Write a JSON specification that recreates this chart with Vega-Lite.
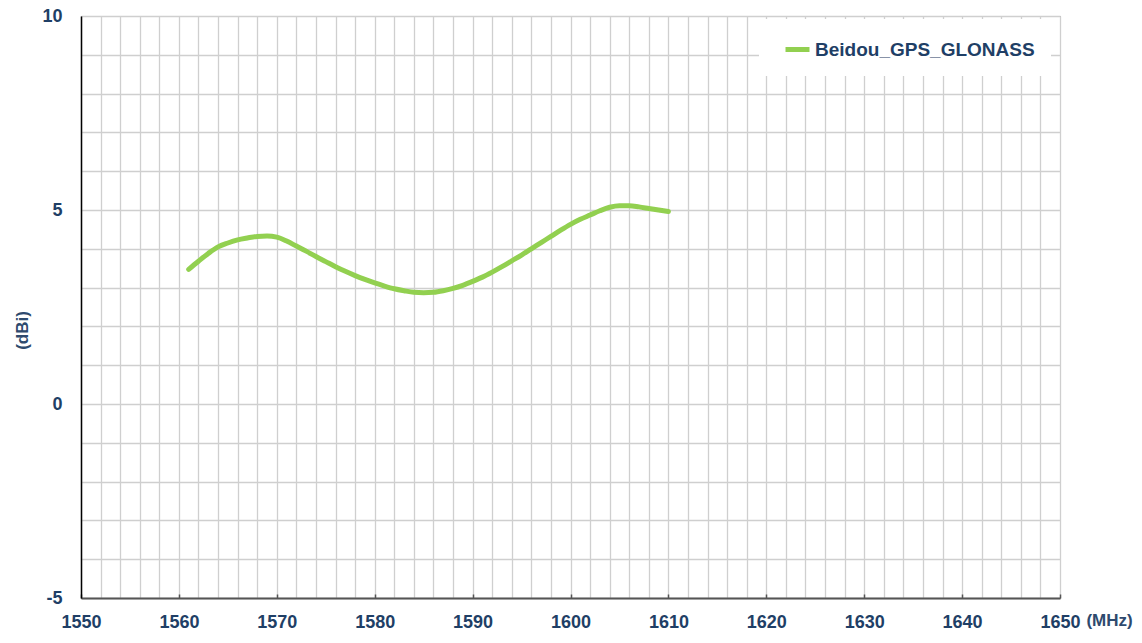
{
  "$schema": "https://vega.github.io/schema/vega-lite/v6.json",
  "width": 979,
  "height": 582,
  "autosize": {"type": "none"},
  "padding": {"left": 81, "top": 16, "right": 82, "bottom": 45},
  "background": "white",
  "config": {
    "view": {"stroke": "#8c8c8c", "strokeWidth": 1},
    "font": "Liberation Sans"
  },
  "data": {
    "values": [
      {"freq": 1561, "gain": 3.47, "series": "Beidou_GPS_GLONASS"},
      {"freq": 1562, "gain": 3.68, "series": "Beidou_GPS_GLONASS"},
      {"freq": 1563, "gain": 3.88, "series": "Beidou_GPS_GLONASS"},
      {"freq": 1564, "gain": 4.05, "series": "Beidou_GPS_GLONASS"},
      {"freq": 1565, "gain": 4.15, "series": "Beidou_GPS_GLONASS"},
      {"freq": 1566, "gain": 4.23, "series": "Beidou_GPS_GLONASS"},
      {"freq": 1567, "gain": 4.28, "series": "Beidou_GPS_GLONASS"},
      {"freq": 1568, "gain": 4.32, "series": "Beidou_GPS_GLONASS"},
      {"freq": 1569, "gain": 4.33, "series": "Beidou_GPS_GLONASS"},
      {"freq": 1570, "gain": 4.3, "series": "Beidou_GPS_GLONASS"},
      {"freq": 1571, "gain": 4.2, "series": "Beidou_GPS_GLONASS"},
      {"freq": 1572, "gain": 4.07, "series": "Beidou_GPS_GLONASS"},
      {"freq": 1573, "gain": 3.94, "series": "Beidou_GPS_GLONASS"},
      {"freq": 1574, "gain": 3.8, "series": "Beidou_GPS_GLONASS"},
      {"freq": 1575, "gain": 3.67, "series": "Beidou_GPS_GLONASS"},
      {"freq": 1576, "gain": 3.54, "series": "Beidou_GPS_GLONASS"},
      {"freq": 1577, "gain": 3.42, "series": "Beidou_GPS_GLONASS"},
      {"freq": 1578, "gain": 3.31, "series": "Beidou_GPS_GLONASS"},
      {"freq": 1579, "gain": 3.21, "series": "Beidou_GPS_GLONASS"},
      {"freq": 1580, "gain": 3.12, "series": "Beidou_GPS_GLONASS"},
      {"freq": 1581, "gain": 3.04, "series": "Beidou_GPS_GLONASS"},
      {"freq": 1582, "gain": 2.97, "series": "Beidou_GPS_GLONASS"},
      {"freq": 1583, "gain": 2.92, "series": "Beidou_GPS_GLONASS"},
      {"freq": 1584, "gain": 2.88, "series": "Beidou_GPS_GLONASS"},
      {"freq": 1585, "gain": 2.87, "series": "Beidou_GPS_GLONASS"},
      {"freq": 1586, "gain": 2.88, "series": "Beidou_GPS_GLONASS"},
      {"freq": 1587, "gain": 2.92, "series": "Beidou_GPS_GLONASS"},
      {"freq": 1588, "gain": 2.98, "series": "Beidou_GPS_GLONASS"},
      {"freq": 1589, "gain": 3.06, "series": "Beidou_GPS_GLONASS"},
      {"freq": 1590, "gain": 3.16, "series": "Beidou_GPS_GLONASS"},
      {"freq": 1591, "gain": 3.27, "series": "Beidou_GPS_GLONASS"},
      {"freq": 1592, "gain": 3.4, "series": "Beidou_GPS_GLONASS"},
      {"freq": 1593, "gain": 3.54, "series": "Beidou_GPS_GLONASS"},
      {"freq": 1594, "gain": 3.69, "series": "Beidou_GPS_GLONASS"},
      {"freq": 1595, "gain": 3.84, "series": "Beidou_GPS_GLONASS"},
      {"freq": 1596, "gain": 4.0, "series": "Beidou_GPS_GLONASS"},
      {"freq": 1597, "gain": 4.16, "series": "Beidou_GPS_GLONASS"},
      {"freq": 1598, "gain": 4.32, "series": "Beidou_GPS_GLONASS"},
      {"freq": 1599, "gain": 4.48, "series": "Beidou_GPS_GLONASS"},
      {"freq": 1600, "gain": 4.63, "series": "Beidou_GPS_GLONASS"},
      {"freq": 1601, "gain": 4.76, "series": "Beidou_GPS_GLONASS"},
      {"freq": 1602, "gain": 4.87, "series": "Beidou_GPS_GLONASS"},
      {"freq": 1603, "gain": 4.98, "series": "Beidou_GPS_GLONASS"},
      {"freq": 1604, "gain": 5.07, "series": "Beidou_GPS_GLONASS"},
      {"freq": 1605, "gain": 5.11, "series": "Beidou_GPS_GLONASS"},
      {"freq": 1606, "gain": 5.11, "series": "Beidou_GPS_GLONASS"},
      {"freq": 1607, "gain": 5.08, "series": "Beidou_GPS_GLONASS"},
      {"freq": 1608, "gain": 5.04, "series": "Beidou_GPS_GLONASS"},
      {"freq": 1609, "gain": 5.0, "series": "Beidou_GPS_GLONASS"},
      {"freq": 1610, "gain": 4.96, "series": "Beidou_GPS_GLONASS"}
    ]
  },
  "mark": {"type": "line", "interpolate": "monotone", "strokeWidth": 5, "strokeCap": "round"},
  "encoding": {
    "x": {
      "field": "freq",
      "type": "quantitative",
      "scale": {"domain": [1550, 1650], "nice": false, "zero": false},
      "axis": {
        "values": [1550,1552,1554,1556,1558,1560,1562,1564,1566,1568,1570,1572,1574,1576,1578,1580,1582,1584,1586,1588,1590,1592,1594,1596,1598,1600,1602,1604,1606,1608,1610,1612,1614,1616,1618,1620,1622,1624,1626,1628,1630,1632,1634,1636,1638,1640,1642,1644,1646,1648,1650],
        "labelExpr": "datum.value % 10 === 0 ? toString(datum.value) : ''",
        "grid": true,
        "gridColor": "#cfcfcf",
        "gridWidth": 1.3,
        "domainColor": "#555555",
        "domainWidth": 2,
        "ticks": true,
        "tickSize": -4,
        "tickColor": "#555555",
        "tickWidth": 1.5,
        "tickOpacity": {"condition": {"test": "datum.value % 10 === 0", "value": 1}, "value": 0},
        "labelPadding": 19,
        "labelFlush": false,
        "labelOverlap": false,
        "labelFont": "Liberation Sans",
        "labelFontSize": 18,
        "labelFontWeight": "bold",
        "labelColor": "#1F3F66",
        "title": "(MHz)",
        "titleFont": "Liberation Sans",
        "titleFontSize": 17,
        "titleFontWeight": "bold",
        "titleColor": "#2E4A6E",
        "titleX": 1028,
        "titleY": 22,
        "titleAlign": "center",
        "titleBaseline": "middle",
        "titleAngle": 0
      }
    },
    "y": {
      "field": "gain",
      "type": "quantitative",
      "scale": {"domain": [-5, 10], "nice": false, "zero": false},
      "axis": {
        "values": [-5,-4,-3,-2,-1,0,1,2,3,4,5,6,7,8,9,10],
        "labelExpr": "datum.value % 5 === 0 ? toString(datum.value) : ''",
        "grid": true,
        "gridColor": "#cfcfcf",
        "gridWidth": 1.3,
        "domainColor": "#000000",
        "domainWidth": 1.5,
        "ticks": false,
        "labelPadding": 19,
        "labelFont": "Liberation Sans",
        "labelFontSize": 18,
        "labelFontWeight": "bold",
        "labelColor": "#1F3F66",
        "labelBaseline": "middle",
        "title": "(dBi)",
        "titleFont": "Liberation Sans",
        "titleFontSize": 17,
        "titleFontWeight": "bold",
        "titleColor": "#2E4A6E",
        "titleX": -59,
        "titleY": 314,
        "titleAngle": -90,
        "titleAlign": "center",
        "titleBaseline": "middle"
      }
    },
    "color": {
      "field": "series",
      "type": "nominal",
      "scale": {"range": ["#92D050"]},
      "legend": {
        "title": null,
        "orient": "none",
        "legendX": 678,
        "legendY": 3,
        "direction": "vertical",
        "fillColor": "white",
        "strokeColor": null,
        "padding": 16,
        "symbolType": "stroke",
        "symbolSize": 576,
        "symbolStrokeWidth": 5,
        "symbolOffset": 8,
        "labelFont": "Liberation Sans",
        "labelFontSize": 19,
        "labelFontWeight": "bold",
        "labelColor": "#1F3F66",
        "labelOffset": 3,
        "labelLimit": 400
      }
    }
  }
}
